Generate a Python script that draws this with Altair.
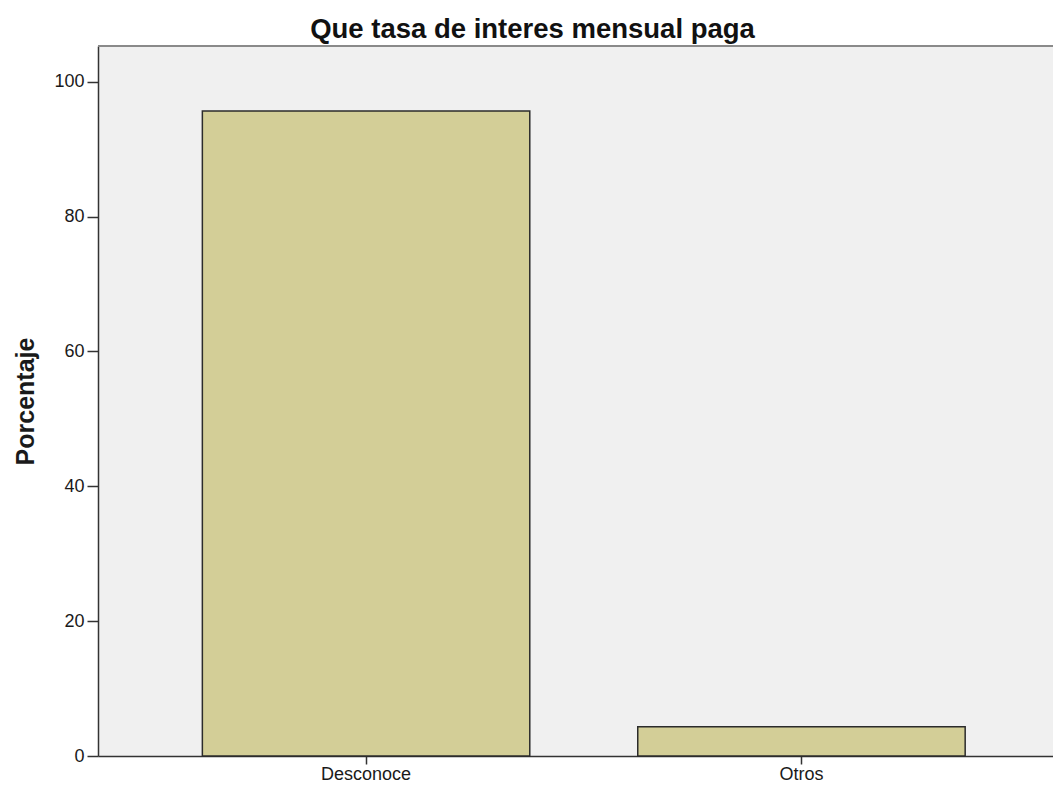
import altair as alt
import pandas as pd

categories = ["Desconoce", "Otros"]
percentages = [95.65, 4.35]
y_ticks = [0, 20, 40, 60, 80, 100]

df = pd.DataFrame({"categoria": categories, "porcentaje": percentages})

W = 955
H = 710
FONT = "Liberation Sans"

bars = alt.Chart(df).mark_bar(
    color="#d3ce97", stroke="#2b2b2b", strokeWidth=1.5
).encode(
    x=alt.X(
        "categoria:N",
        sort=categories,
        title=None,
        scale=alt.Scale(paddingInner=0.248, paddingOuter=0.2207, align=0.543),
        axis=alt.Axis(
            labelAngle=0,
            labelFontSize=18,
            labelFont=FONT,
            labelColor="#1a1a1a",
            labelPadding=1,
            tickSize=8,
            tickColor="#333333",
            tickWidth=1.5,
            domainColor="#333333",
            domainWidth=1.5,
        ),
    ),
    y=alt.Y(
        "porcentaje:Q",
        title="Porcentaje",
        scale=alt.Scale(domain=[0, 105.3], nice=False, zero=True),
        axis=alt.Axis(
            values=y_ticks,
            grid=False,
            labelFontSize=18,
            labelFont=FONT,
            labelColor="#1a1a1a",
            labelPadding=3,
            tickSize=11,
            tickColor="#333333",
            tickWidth=1.5,
            domainColor="#333333",
            domainWidth=1.5,
            titleFont=FONT,
            titleFontSize=25,
            titleFontWeight="bold",
            titleColor="#1a1a1a",
            titlePadding=15,
        ),
    ),
)

top_border = alt.Chart(df).mark_rule(color="#8a8a8a", strokeWidth=2).encode(
    x=alt.value(0), x2=alt.value(W), y=alt.value(0)
)

chart = (
    alt.layer(bars, top_border)
    .properties(
        width=W,
        height=H,
        title=alt.TitleParams(
            "Que tasa de interes mensual paga",
            font=FONT,
            fontSize=27.5,
            fontWeight="bold",
            color="#111111",
            dx=-43,
            offset=2,
        ),
        autosize=alt.AutoSizeParams(type="none"),
        padding={"left": 90, "top": 38, "right": 0, "bottom": 26},
    )
    .configure(
        background="white",
        view=alt.ViewConfig(fill="#f0f0f0", stroke=None),
    )
)

chart.save("out.html", embed_options={"renderer": "svg", "actions": False})
